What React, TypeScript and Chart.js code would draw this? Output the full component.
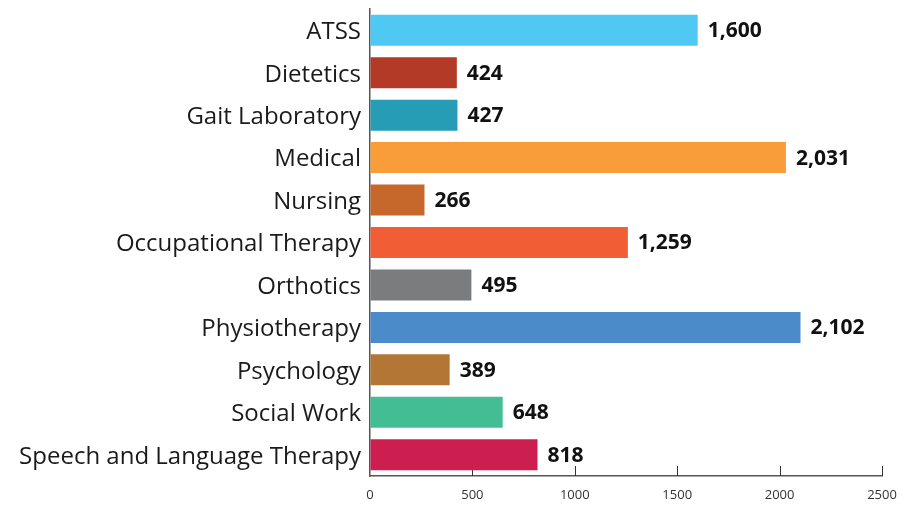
import React, { useEffect, useRef } from "react";
import { Chart, registerables } from "chart.js";

Chart.register(...registerables);

const categories = [
  "ATSS",
  "Dietetics",
  "Gait Laboratory",
  "Medical",
  "Nursing",
  "Occupational Therapy",
  "Orthotics",
  "Physiotherapy",
  "Psychology",
  "Social Work",
  "Speech and Language Therapy",
];

const values = [1600, 424, 427, 2031, 266, 1259, 495, 2102, 389, 648, 818];

const barColors = [
  "#4FC9F4",
  "#B23A26",
  "#279DB5",
  "#F99D3A",
  "#C6682B",
  "#F15E36",
  "#7B7C7E",
  "#4B8BCA",
  "#B47634",
  "#43BE94",
  "#CC1F50",
];

const xTicks = [0, 500, 1000, 1500, 2000, 2500];

const FONT = "'Open Sans', 'Noto Sans', sans-serif";

const tickMarksPlugin = {
  id: "tickMarks",
  beforeDatasetsDraw(chart: any) {
    const { ctx, scales, chartArea } = chart;
    const x = scales.x;
    ctx.save();
    ctx.strokeStyle = "#333";
    ctx.lineWidth = 1;
    xTicks.forEach((v) => {
      if (v === 0) return;
      const px = Math.round(x.getPixelForValue(v)) + 0.5;
      ctx.beginPath();
      ctx.moveTo(px, chartArea.bottom);
      ctx.lineTo(px, chartArea.bottom - 10);
      ctx.stroke();
    });
    ctx.restore();
  },
};

const valueLabelPlugin = {
  id: "valueLabels",
  afterDatasetsDraw(chart: any) {
    const { ctx } = chart;
    const meta = chart.getDatasetMeta(0);
    ctx.save();
    ctx.font = `bold 21px ${FONT}`;
    ctx.fillStyle = "#111";
    ctx.textAlign = "left";
    ctx.textBaseline = "middle";
    meta.data.forEach((el: any, i: number) => {
      const label = values[i].toLocaleString("en-US");
      ctx.fillText(label, el.x + 10, el.y + 1);
    });
    ctx.restore();
  },
};

export default function App() {
  const canvasRef = useRef<HTMLCanvasElement | null>(null);

  useEffect(() => {
    if (!canvasRef.current) return;
    const chart = new Chart(canvasRef.current, {
      type: "bar",
      data: {
        labels: categories,
        datasets: [
          {
            data: values,
            backgroundColor: barColors,
            borderWidth: 0,
            categoryPercentage: 1,
            barPercentage: 0.73,
          },
        ],
      },
      options: {
        indexAxis: "y",
        animation: false,
        responsive: false,
        maintainAspectRatio: false,
        layout: { padding: { top: 9, right: 21, bottom: 0, left: 0 } },
        plugins: {
          legend: { display: false },
          tooltip: { enabled: false },
        },
        scales: {
          x: {
            type: "linear",
            min: 0,
            max: 2500,
            afterBuildTicks(scale: any) {
              scale.ticks = xTicks.map((v) => ({ value: v }));
            },
            afterFit(scale: any) {
              scale.height = 33;
              scale.paddingLeft = 0;
              scale.paddingRight = 0;
              scale.paddingTop = 0;
              scale.paddingBottom = 0;
            },
            grid: { display: true, drawOnChartArea: false, drawTicks: false },
            border: { display: true, color: "#555", width: 1.5 },
            ticks: {
              padding: 11,
              color: "#333",
              font: { family: FONT, size: 13 },
              callback: (v: any) => String(v),
            },
          },
          y: {
            afterFit(scale: any) {
              scale.width = 370;
              scale.paddingLeft = 0;
              scale.paddingRight = 0;
              scale.paddingTop = 0;
              scale.paddingBottom = 0;
            },
            grid: { display: false, drawTicks: false },
            border: { display: true, color: "#555", width: 1.5 },
            ticks: {
              padding: 9,
              labelOffset: 2,
              color: "#1a1a1a",
              font: { family: FONT, size: 24 },
            },
          },
        },
      },
      plugins: [tickMarksPlugin, valueLabelPlugin],
    });
    return () => chart.destroy();
  }, []);

  return (
    <div style={{ position: "fixed", left: 0, top: 0, width: 903, height: 509, background: "#fff" }}>
      <canvas ref={canvasRef} width={903} height={509} style={{ width: 903, height: 509 }} />
    </div>
  );
}
